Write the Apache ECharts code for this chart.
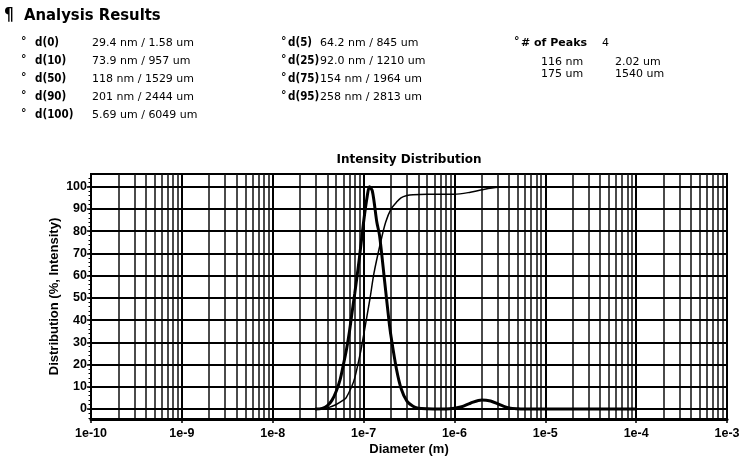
<!DOCTYPE html>
<html>
<head>
<meta charset="utf-8">
<script src="https://cdn.jsdelivr.net/npm/echarts@6/dist/echarts.min.js"></script>
<style>html,body{margin:0;padding:0;background:#fff}#c{width:740px;height:457px}</style>
</head>
<body>
<div id="c"></div>
<script>
// ---- Data ----
const xTickLabels = ['1e-10','1e-9','1e-8','1e-7','1e-6','1e-5','1e-4','1e-3'];
const yTickLabels = [0,10,20,30,40,50,60,70,80,90,100];

// Intensity distribution (thick curve)
const distDiameters = [29.4e-9,35e-9,40e-9,45e-9,50e-9,55e-9,60e-9,65e-9,70e-9,75e-9,80e-9,90e-9,100e-9,110e-9,116e-9,125e-9,140e-9,150e-9,170e-9,190e-9,200e-9,230e-9,260e-9,300e-9,350e-9,400e-9,500e-9,700e-9,0.8e-6,1.0e-6,1.2e-6,1.5e-6,2.0e-6,2.5e-6,3.0e-6,3.5e-6,4.0e-6,5.0e-6,5.69e-6,1e-5,1e-4];
const distValues    = [0,0.3,1.5,4,8,13,20,27,35,44,52,68,84,96,100,98,84,78,58,40,33,18,9,3.5,1.2,0.4,0.1,0,0,0.3,1,2.6,4.1,3.6,2.3,1.2,0.5,0.1,0,0,0];

// Cumulative (thin curve)
const cumDiameters = [29.4e-9,40e-9,50e-9,60e-9,64.2e-9,73.9e-9,80e-9,92e-9,100e-9,118e-9,130e-9,154e-9,175e-9,201e-9,230e-9,258e-9,300e-9,350e-9,500e-9,1e-6,1.5e-6,2e-6,3e-6,5.69e-6];
const cumValues    = [0,0.5,2,4,5,10,14,25,33,50,61,75,84,90,93,95,96,96.4,96.6,96.6,97.5,98.6,99.7,100];

// Analysis results table
const col1Labels = ['d(0)','d(10)','d(50)','d(90)','d(100)'];
const col1Values = ['29.4 nm / 1.58 um','73.9 nm / 957 um','118 nm / 1529 um','201 nm / 2444 um','5.69 um / 6049 um'];
const col2Labels = ['d(5)','d(25)','d(75)','d(95)'];
const col2Values = ['64.2 nm / 845 um','92.0 nm / 1210 um','154 nm / 1964 um','258 nm / 2813 um'];
const peaksCount = '4';
const peaksRow1 = ['116 nm','2.02 um'];
const peaksRow2 = ['175 um','1540 um'];

// ---- Build ----
const distData = distDiameters.map((d,i)=>[d,distValues[i]]);
const cumData = cumDiameters.map((d,i)=>[d,cumValues[i]]);

// minor log grid positions (exponent space) for a helper axis
const minorExp = [];
for (let e=-10; e<-3; e++) for (let k=2; k<=9; k++) minorExp.push(e+Math.log10(k));
const hLines = yTickLabels.map(v=>({yAxis:v}));

const rowY = [43,61,79,97,115];
const graphics = [];
const txt = (t,x,y,font,align) => graphics.push({type:'text', z:10, style:{text:t,x:x,y:y,font:font,fill:'#000',align:align||'left',verticalAlign:'middle'}});
const LB = 'bold 11.5px "DejaVu Sans Condensed"';
const VF = '11px "DejaVu Sans"';
const BU = 'bold 11px "DejaVu Sans"';
txt('¶',4,16,'bold 17px "DejaVu Sans Condensed"');
txt('Analysis Results',24,16,'bold 16.5px "DejaVu Sans Condensed"');
col1Labels.forEach((l,i)=>{ txt('°',21,rowY[i]-2,BU); txt(l,35,rowY[i],LB); txt(col1Values[i],92,rowY[i],VF); });
col2Labels.forEach((l,i)=>{ txt('°',281,rowY[i]-2,BU); txt(l,288,rowY[i],LB); txt(col2Values[i],320,rowY[i],VF); });
txt('°',514,rowY[0]-2,BU);
txt('# of Peaks',521,rowY[0],'bold 11px "DejaVu Sans"');
txt(peaksCount,602,rowY[0],VF);
txt(peaksRow1[0],541,62,VF); txt(peaksRow1[1],615,62,VF);
txt(peaksRow2[0],541,74,VF); txt(peaksRow2[1],615,74,VF);
txt('Intensity Distribution',409,160,'bold 12px "DejaVu Sans"','center');

const chart = echarts.init(document.getElementById('c'), null, {renderer:'canvas'});
const yMin = -4.5, yMax = 105.7;
const minorY = []; for (let v=-4; v<=104; v+=2) minorY.push(v);
const gridH = 457-174-38;
chart.setOption({
  animation:false,
  backgroundColor:'#fff',
  graphic: graphics,
  grid:{left:91,right:13,top:174,bottom:38,outerBoundsMode:'none',containLabel:false,show:true,borderColor:'#000',borderWidth:2,backgroundColor:'transparent'},
  xAxis:[{
    type:'log', logBase:10, min:1e-10, max:1e-3, splitNumber:7, z:2,
    name:'Diameter (m)', nameLocation:'middle', nameGap:24, nameMoveOverlap:false,
    nameTextStyle:{fontFamily:'Liberation Sans',fontWeight:'bold',fontSize:13,color:'#000'},
    axisLine:{onZero:false,lineStyle:{color:'#000',width:3}},
    axisTick:{show:true,length:4,lineStyle:{color:'#000',width:1.5}},
    axisLabel:{color:'#000',fontFamily:'Liberation Sans',fontWeight:'bold',fontSize:12.5,margin:8,
      formatter:(v)=>xTickLabels[Math.round(Math.log10(v))+10]},
    splitLine:{show:true,lineStyle:{color:'#000',width:2}}
  },{
    type:'value', min:-10, max:-3, position:'bottom', z:1,
    axisLine:{show:false,onZero:false},
    axisTick:{show:true,inside:true,length:gridH,customValues:minorExp,lineStyle:{color:'#111',width:1.5}},
    axisLabel:{show:false}, splitLine:{show:false}
  }],
  yAxis:[{
    type:'value', min:yMin, max:yMax,
    axisLine:{show:true,onZero:false,lineStyle:{color:'#000',width:2}},
    axisTick:{show:true,length:2.5,customValues:minorY,lineStyle:{color:'#000',width:1}},
    axisLabel:{show:false}, splitLine:{show:false}
  },{
    type:'value', min:yMin, max:yMax, position:'left',
    name:'Distribution (%, Intensity)', nameLocation:'middle', nameGap:30, nameRotate:90, nameMoveOverlap:false,
    nameTextStyle:{fontFamily:'Liberation Sans',fontWeight:'bold',fontSize:13,color:'#000'},
    axisLine:{show:false,onZero:false},
    axisTick:{show:true,length:4,customValues:yTickLabels,lineStyle:{color:'#000',width:1.5}},
    axisLabel:{show:true,customValues:yTickLabels,color:'#000',fontFamily:'Liberation Sans',fontWeight:'bold',fontSize:12.5,margin:4},
    splitLine:{show:false}
  }],
  series:[
    {type:'line', z:1, data:[], xAxisIndex:0, yAxisIndex:0, silent:true,
     markLine:{silent:true,symbol:['none','none'],label:{show:false},animation:false,
       lineStyle:{type:'solid',color:'#000',width:1.8},data:hLines}},
    {type:'line', z:3, xAxisIndex:0, yAxisIndex:0, data:cumData, smooth:0.3, showSymbol:false, lineStyle:{color:'#000',width:1.5}},
    {type:'line', z:4, xAxisIndex:0, yAxisIndex:0, data:distData, smooth:0.3, showSymbol:false, lineStyle:{color:'#000',width:3}}
  ]
});
</script>
</body>
</html>
